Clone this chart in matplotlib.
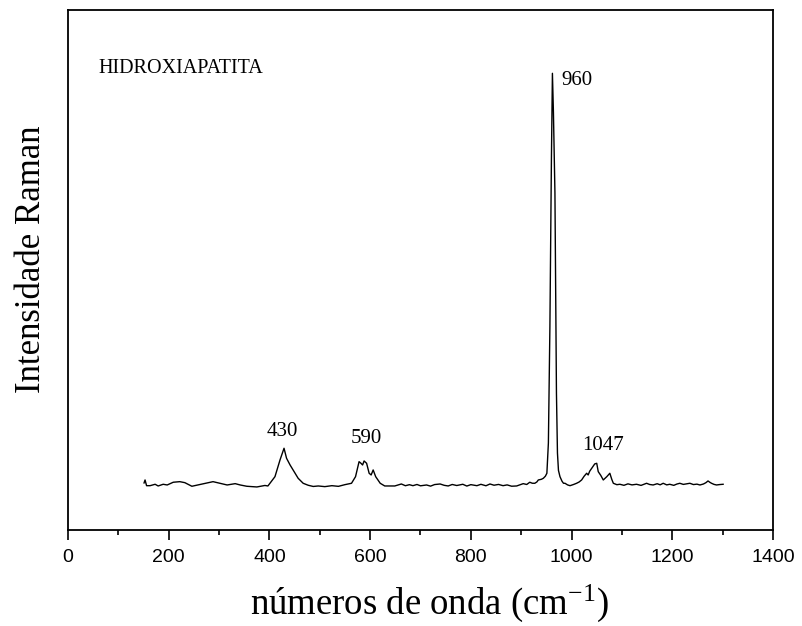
import matplotlib
matplotlib.use("Agg")
import matplotlib.pyplot as plt
from matplotlib.ticker import MultipleLocator

plt.rcParams["mathtext.fontset"] = "stix"

# Raman spectrum of hydroxyapatite (arbitrary intensity units)
wavenumber = [
    151, 153, 156, 163, 173, 179, 189, 197, 209, 222, 232, 246, 258, 276, 288,
    302, 316, 332, 342, 355, 375, 391, 397, 411, 421, 429, 434, 441, 447, 457,
    467, 477, 487, 497, 510, 524, 537, 550, 563, 571, 578, 582, 585, 588, 593,
    598, 602, 606, 611, 620, 629, 639, 649, 656, 662, 670, 678, 685, 693, 700,
    712, 720, 728, 739, 747, 755, 763, 772, 784, 792, 800, 812, 820, 830, 838,
    846, 855, 864, 872, 881, 891, 898, 904, 911, 917, 922, 927, 931, 934, 940,
    944, 948, 951, 954, 957, 960, 962, 964, 967, 970, 972, 974, 977, 981, 984,
    987, 992, 997, 1004, 1010, 1015, 1020, 1025, 1030, 1033, 1036, 1040, 1046,
    1050, 1053, 1058, 1063, 1070, 1076, 1080, 1083, 1090, 1096, 1104, 1112,
    1120, 1129, 1138, 1149, 1155, 1162, 1170, 1176, 1182, 1189, 1195, 1203,
    1209, 1215, 1222, 1228, 1235, 1242, 1249, 1255, 1262, 1267, 1271, 1275,
    1278, 1283, 1288, 1294, 1301,
]
intensity = [
    9.7, 16.9, 3.1, 3.1, 6.5, 2.4, 6.5, 4.8, 11.4, 12.8, 10.4, 1.7, 4.8, 9.7,
    12.8, 8.9, 4.8, 8.0, 4.8, 1.7, 0.0, 3.6, 2.4, 24.9, 65.2, 93.5, 69.3, 53.1,
    41.1, 21.0, 8.9, 4.1, 1.2, 2.4, 0.8, 3.1, 1.5, 5.6, 8.9, 24.9, 61.1, 57.0,
    53.1, 62.8, 57.2, 33.1, 29.0, 41.1, 24.9, 8.9, 2.4, 2.4, 2.4, 5.0, 7.2,
    3.0, 5.5, 3.1, 6.0, 2.8, 4.8, 2.0, 5.8, 7.2, 4.0, 2.4, 6.0, 3.5, 6.5, 2.2,
    5.6, 3.1, 6.4, 2.9, 7.2, 4.2, 6.1, 3.1, 5.0, 1.8, 2.4, 5.3, 8.0, 6.0, 11.4,
    9.0, 8.9, 12.0, 16.9, 18.5, 21.0, 26.0, 33.1, 106.3, 387.2, 789.9, 999.3,
    905.0, 710.2, 227.1, 82.1, 40.0, 24.9, 14.0, 8.9, 8.9, 5.0, 3.1, 6.0, 8.9,
    12.0, 16.9, 26.0, 33.1, 29.0, 38.0, 45.2, 55.6, 57.2, 37.0, 28.0, 16.9,
    24.9, 33.1, 18.0, 8.9, 5.5, 6.5, 4.0, 7.5, 5.0, 6.5, 3.8, 8.9, 6.0, 4.8,
    7.8, 5.2, 8.9, 5.0, 6.5, 3.9, 7.0, 8.9, 6.2, 7.5, 8.9, 5.8, 6.8, 4.8,
    7.2, 10.5, 14.5, 11.0, 8.9, 6.2, 4.8, 5.8, 6.5,
]

peak_labels = ["430", "590", "960", "1047"]
peak_label_x = [426, 592, 979, 1062]
peak_label_y = [133, 116, 983, 101]
peak_label_ha = ["center", "center", "left", "center"]

x_ticks = [0, 200, 400, 600, 800, 1000, 1200, 1400]

serif = ["Liberation Serif", "DejaVu Serif"]

fig = plt.figure(figsize=(8.03, 6.26), dpi=100)
ax = fig.add_axes([0.0847, 0.1534, 0.8779, 0.8306])

ax.plot(wavenumber, intensity, color="black", linewidth=1.0)

ax.set_xlim(0, 1400)
ax.set_ylim(-103.9, 1152.2)
ax.set_xticks(x_ticks)
ax.xaxis.set_minor_locator(MultipleLocator(100))
ax.set_yticks([])
ax.tick_params(axis="x", which="major", direction="out", length=7.5,
               width=1.2, labelsize=14, pad=6, top=False)
ax.tick_params(axis="x", which="minor", direction="out", length=3.8,
               width=1.2, top=False)
for lbl in ax.get_xticklabels():
    lbl.set_family(["Liberation Sans", "DejaVu Sans"])
for s in ax.spines.values():
    s.set_linewidth(1.3)

for txt, px, py, ha in zip(peak_labels, peak_label_x, peak_label_y,
                           peak_label_ha):
    ax.text(px, py, txt, ha=ha, va="center", fontsize=15, family=serif)

ax.text(60, 1012, "HIDROXIAPATITA", ha="left", va="center",
        fontsize=14.5, family=serif)

ax.set_xlabel(r"números de onda (cm$^{\mathregular{-1}}$)", fontsize=26.5,
              family=serif, labelpad=12)
ax.xaxis.label.set_x(0.513)
ax.set_ylabel("Intensidade Raman", fontsize=25, family=serif)
ax.yaxis.set_label_coords(-0.028, 0.521)

fig.savefig("out.png", dpi=100)
